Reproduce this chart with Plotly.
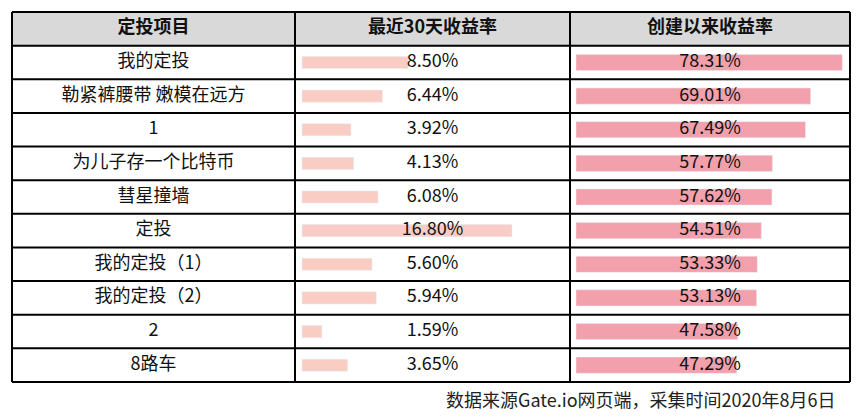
import plotly.graph_objects as go

names = ["我的定投", "勒紧裤腰带 嫩模在远方", "1", "为儿子存一个比特币", "彗星撞墙", "定投",
         "我的定投（1）", "我的定投（2）", "2", "8路车"]
ret30 = [8.50, 6.44, 3.92, 4.13, 6.08, 16.80, 5.60, 5.94, 1.59, 3.65]
retall = [78.31, 69.01, 67.49, 57.77, 57.62, 54.51, 53.33, 53.13, 47.58, 47.29]
headers = ["定投项目", "最近30天收益率", "创建以来收益率"]

W, H = 860, 418
OFF = 8  # page body margin
FONT = "Noto Sans CJK SC, Microsoft YaHei, sans-serif"
cols = [12, 295, 570, 850]
top, bot = 12, 382
px = lambda v: (v - OFF) / W
py = lambda v: (H - (v - OFF)) / H
rows = list(range(len(names)))
txt = dict(size=18, family=FONT, color="#111")

fig = go.Figure()
fig.add_trace(go.Bar(x=ret30, y=rows, orientation="h", width=0.36, marker_color="#f9cdc4",
                     xaxis="x2", yaxis="y", hoverinfo="skip"))
fig.add_trace(go.Bar(x=retall, y=rows, orientation="h", width=0.48, marker_color="#f2a0ab",
                     xaxis="x3", yaxis="y", hoverinfo="skip"))
fig.add_trace(go.Scatter(x=[0.5] * (len(names) + 1), y=[-1] + rows, text=["<b>%s</b>" % headers[0]] + names,
                         mode="text", textfont=txt, xaxis="x", yaxis="y"))
fig.add_trace(go.Scatter(x=[0.5] * (len(names) + 1), y=[-1] + rows,
                         text=["<b>%s</b>" % headers[1]] + [f"{v:.2f}%" for v in ret30],
                         mode="text", textfont=txt, xaxis="x4", yaxis="y"))
fig.add_trace(go.Scatter(x=[0.5] * (len(names) + 1), y=[-1] + rows,
                         text=["<b>%s</b>" % headers[2]] + [f"{v:.2f}%" for v in retall],
                         mode="text", textfont=txt, xaxis="x5", yaxis="y"))

ax = dict(visible=False, fixedrange=True)
fig.update_layout(
    width=W, height=H, margin=dict(l=0, r=0, t=0, b=0), showlegend=False,
    plot_bgcolor="rgba(0,0,0,0)", paper_bgcolor="white", barmode="overlay",
    yaxis=dict(ax, range=[len(names) - 0.5, -1.5], domain=[py(bot), py(top)]),
    xaxis=dict(ax, range=[0, 1], domain=[px(cols[0]), px(cols[1])], anchor="y"),
    xaxis2=dict(ax, range=[-7 / 12.5, (275 - 7) / 12.5], domain=[px(cols[1]), px(cols[2])], anchor="y"),
    xaxis3=dict(ax, range=[-6 / 3.4, 274 / 3.4], domain=[px(cols[2]), px(cols[3])], anchor="y"),
    xaxis4=dict(ax, range=[0, 1], domain=[px(cols[1]), px(cols[2])], anchor="y"),
    xaxis5=dict(ax, range=[0, 1], domain=[px(cols[2]), px(cols[3])], anchor="y"),
)

rh = (bot - top) / (len(names) + 1)
shapes = [dict(type="rect", xref="paper", yref="paper", x0=px(cols[0]), x1=px(cols[3]),
               y0=py(top + rh), y1=py(top), fillcolor="#d9d9d9", line_width=0, layer="below")]
for i in range(len(names) + 2):
    y = top + i * rh
    shapes.append(dict(type="line", xref="paper", yref="paper", x0=px(cols[0]), x1=px(cols[3]),
                       y0=py(y), y1=py(y), line=dict(color="black", width=2)))
for c in cols:
    shapes.append(dict(type="line", xref="paper", yref="paper", x0=px(c), x1=px(c),
                       y0=py(bot), y1=py(top), line=dict(color="black", width=2)))
fig.update_layout(shapes=shapes)

fig.add_annotation(x=px(838), y=py(414), xref="paper", yref="paper", xanchor="right", yanchor="bottom",
                   text="数据来源Gate.io网页端，采集时间2020年8月6日", showarrow=False,
                   font=dict(size=18, family=FONT, color="#222"))

fig.write_html("out.html")
